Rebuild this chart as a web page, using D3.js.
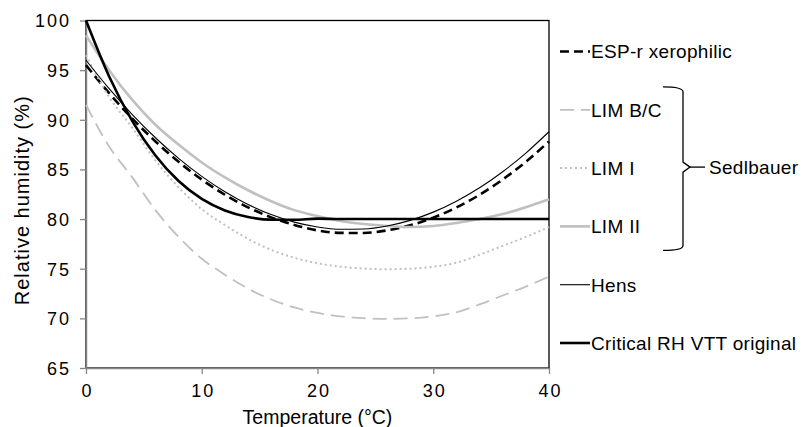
<!DOCTYPE html>
<html lang="en">
<head>
  <meta charset="UTF-8">
  <title>Critical relative humidity curves</title>
  <script src="https://d3js.org/d3.v7.min.js"></script>
  <style>
    body { margin: 0; background: #fff; }
    svg { display: block; font-family: "Liberation Sans", Arial, sans-serif; }
    .tick-label { font-size: 18px; letter-spacing: 2px; fill: #000; }
    .axis-title { font-size: 19.5px; fill: #000; }
    .y-title { font-size: 20px; letter-spacing: 1px; }
    .legend-text { font-size: 19px; letter-spacing: 0.3px; fill: #000; }
  </style>
</head>
<body>
  <div id="chart"></div>
  <script>
    // data
    const temps  = [0, 2, 4, 6, 8, 10, 12, 14, 16, 18, 20, 22, 24, 26, 28, 30, 32, 34, 36, 38, 40];
    const espR   = [95.5, 92.68, 90.12, 87.82, 85.77, 83.98, 82.45, 81.18, 80.17, 79.41, 78.86, 78.61, 78.6, 78.86, 79.37, 80.14, 81.17, 82.44, 83.98, 85.77, 87.82];
    const limBC  = [91.5, 87.3, 84.2, 80.9, 78.2, 76.0, 74.4, 73.0, 71.9, 71.1, 70.55, 70.2, 70.02, 69.95, 70.0, 70.2, 70.6, 71.4, 72.3, 73.2, 74.2];
    const limI   = [96.5, 92.3, 89.2, 85.9, 83.2, 81.0, 79.4, 78.0, 76.9, 76.1, 75.55, 75.2, 75.02, 74.95, 75.0, 75.2, 75.6, 76.4, 77.3, 78.2, 79.2];
    const limII  = [98.5, 95.0, 92.0, 89.5, 87.5, 85.7, 84.2, 82.9, 81.8, 80.9, 80.3, 79.8, 79.5, 79.3, 79.2, 79.3, 79.6, 80.0, 80.5, 81.2, 82.0];
    const hens   = [96, 93.13, 90.53, 88.19, 86.11, 84.3, 82.75, 81.47, 80.45, 79.69, 79.2, 78.97, 79.0, 79.3, 79.87, 80.7, 81.8, 83.15, 84.77, 86.65, 88.8];
    const vtt    = [100, 94.36, 89.87, 86.4, 83.83, 82.03, 80.87, 80.21, 79.94, 79.93, 80.04, 80, 80, 80, 80, 80, 80, 80, 80, 80, 80];

    const xTicks = [0, 10, 20, 30, 40];
    const yTicks = [65, 70, 75, 80, 85, 90, 95, 100];

    const seriesNames = ["ESP-r xerophilic", "LIM B/C", "LIM I", "LIM II", "Hens", "Critical RH VTT original"];
    const seriesValues = [espR, limBC, limI, limII, hens, vtt];

    // line look per series
    const styles = [
      { stroke: "#000", width: 2.6, dash: "9,5" },
      { stroke: "#c0c0c0", width: 1.8, dash: "14,7" },
      { stroke: "#c0c0c0", width: 2, dash: "2,3" },
      { stroke: "#c0c0c0", width: 2.6, dash: null },
      { stroke: "#000", width: 1.1, dash: null },
      { stroke: "#000", width: 2.6, dash: null }
    ];

    const width = 803, height = 427;
    const margin = { top: 20.5, right: 254, bottom: 59, left: 86 };
    const plotW = width - margin.left - margin.right;
    const plotH = height - margin.top - margin.bottom;

    const svg = d3.select("#chart")
      .append("svg")
      .attr("width", width)
      .attr("height", height);

    const g = svg.append("g")
      .attr("transform", `translate(${margin.left},${margin.top})`);

    const x = d3.scaleLinear().domain([0, 40]).range([0, plotW]);
    const y = d3.scaleLinear().domain([65, 100]).range([plotH, 0]);

    // plot area frame
    g.append("rect")
      .attr("x", 0).attr("y", 0)
      .attr("width", plotW).attr("height", plotH)
      .attr("fill", "none")
      .attr("stroke", "#000")
      .attr("stroke-width", 1.3);

    // axes
    const yAxis = g.append("g")
      .call(d3.axisLeft(y).tickValues(yTicks).tickSize(6).tickSizeOuter(0));
    const xAxis = g.append("g")
      .attr("transform", `translate(0,${plotH})`)
      .call(d3.axisBottom(x).tickValues(xTicks).tickSize(6).tickSizeOuter(0));

    [xAxis, yAxis].forEach(a => {
      a.select(".domain").attr("stroke", "#868686").attr("stroke-width", 1.5);
      a.selectAll(".tick line").attr("stroke", "#868686").attr("stroke-width", 1.3);
      a.selectAll(".tick text")
        .attr("class", "tick-label")
        .attr("font-family", null)
        .attr("font-size", null);
    });
    yAxis.selectAll(".tick text").attr("x", -15).attr("dy", "0.36em");
    xAxis.selectAll(".tick text").attr("dx", 1).attr("y", 16).attr("dy", "0.71em");

    // curves
    const line = d3.line()
      .x((d, i) => x(temps[i]))
      .y(d => y(d))
      .curve(d3.curveMonotoneX);

    g.selectAll(".series")
      .data(seriesValues)
      .enter()
      .append("path")
      .attr("class", "series")
      .attr("d", d => line(d))
      .attr("fill", "none")
      .attr("stroke", (d, i) => styles[i].stroke)
      .attr("stroke-width", (d, i) => styles[i].width)
      .attr("stroke-dasharray", (d, i) => styles[i].dash);

    // axis titles
    svg.append("text")
      .attr("class", "axis-title")
      .attr("x", margin.left + plotW / 2)
      .attr("y", 423.5)
      .attr("text-anchor", "middle")
      .text("Temperature (°C)");

    svg.append("text")
      .attr("class", "axis-title y-title")
      .attr("transform", `translate(29,${margin.top + plotH / 2 + 6}) rotate(-90)`)
      .attr("text-anchor", "middle")
      .text("Relative humidity (%)");

    // legend on the right
    const legendX = 560, legendY = 51.5, legendStep = 58.3;
    const legend = svg.append("g");
    const rows = legend.selectAll(".row")
      .data(seriesNames)
      .enter()
      .append("g")
      .attr("class", "row")
      .attr("transform", (d, i) => `translate(${legendX},${legendY + i * legendStep})`);

    rows.append("line")
      .attr("x1", 0).attr("x2", 30)
      .attr("stroke", (d, i) => styles[i].stroke)
      .attr("stroke-width", (d, i) => styles[i].width)
      .attr("stroke-dasharray", (d, i) => styles[i].dash);

    rows.append("text")
      .attr("class", "legend-text")
      .attr("x", 31)
      .attr("dy", "0.36em")
      .text(d => d);

    // brace grouping the Sedlbauer curves
    const braceTop = legendY + legendStep - 23, braceBot = legendY + 3 * legendStep + 24;
    const braceMid = legendY + 2 * legendStep - 1;
    const bx = 683;
    const p = d3.path();
    p.moveTo(663, braceTop);
    p.quadraticCurveTo(bx, braceTop, bx, braceTop + 5);
    p.lineTo(bx, braceMid - 5);
    p.lineTo(bx + 7, braceMid);
    p.lineTo(bx, braceMid + 5);
    p.lineTo(bx, braceBot - 5);
    p.quadraticCurveTo(bx, braceBot, 663, braceBot);
    legend.append("path")
      .attr("d", p.toString())
      .attr("fill", "none")
      .attr("stroke", "#000")
      .attr("stroke-width", 1.3);
    legend.append("line")
      .attr("x1", bx + 7).attr("x2", bx + 22)
      .attr("y1", braceMid).attr("y2", braceMid)
      .attr("stroke", "#000")
      .attr("stroke-width", 1.3);
    legend.append("text")
      .attr("class", "legend-text")
      .attr("x", bx + 26)
      .attr("y", braceMid)
      .attr("dy", "0.36em")
      .text("Sedlbauer");
  </script>
</body>
</html>
